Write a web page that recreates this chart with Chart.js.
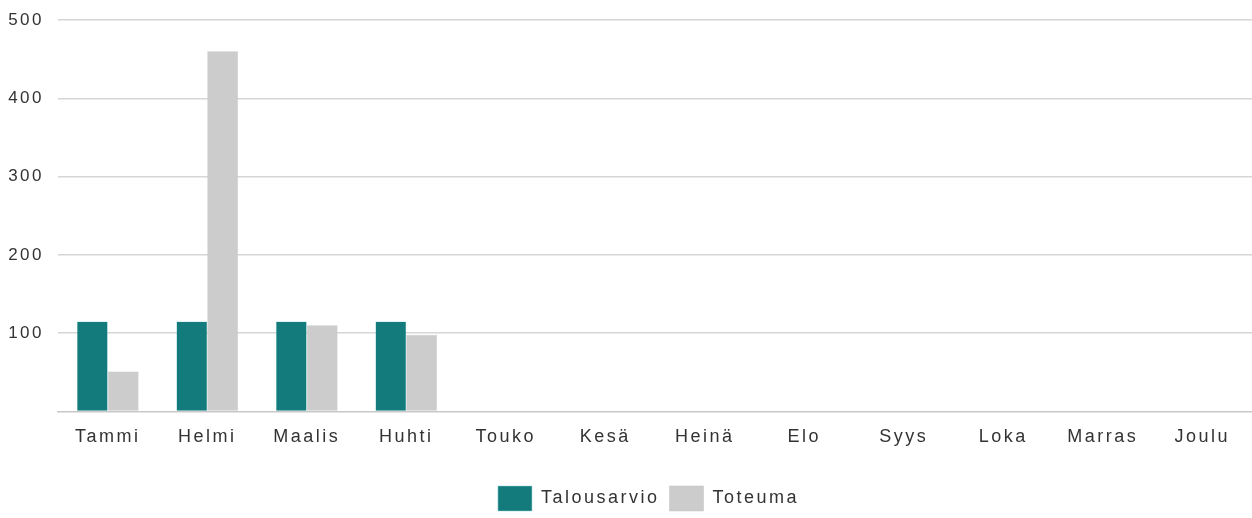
<!DOCTYPE html>
<html>
<head>
<meta charset="utf-8">
<script src="https://cdn.jsdelivr.net/npm/chart.js@4"></script>
<style>
  html, body { margin: 0; padding: 0; background: #fff; }
  #wrap { width: 1252px; height: 518px; }
</style>
</head>
<body>
<div id="wrap"><canvas id="chart"></canvas></div>
<script>
const months = ["Tammi", "Helmi", "Maalis", "Huhti", "Touko", "Kesä", "Heinä", "Elo", "Syys", "Loka", "Marras", "Joulu"];
const budget = [115, 115, 115, 115, null, null, null, null, null, null, null, null];
const actual = [51, 460, 110, 98, null, null, null, null, null, null, null, null];
const yTicks = [100, 200, 300, 400, 500];

// wide letter spacing like the original rendering
const spacing = {
  id: "spacing",
  beforeDraw(chart) { chart.ctx.letterSpacing = "2.5px"; }
};

const font = { family: "Liberation Sans", size: 18 };

new Chart(document.getElementById("chart"), {
  type: "bar",
  data: {
    labels: months,
    datasets: [
      {
        label: "Talousarvio",
        data: budget,
        backgroundColor: "#147b7d",
        borderColor: "#8fd0d0",
        borderWidth: 0.5,
      },
      {
        label: "Toteuma",
        data: actual,
        backgroundColor: "#cccccc",
        borderColor: "#c2c2c2",
        borderWidth: 0.5,
      },
    ],
  },
  options: {
    responsive: true,
    maintainAspectRatio: false,
    animation: false,
    layout: { padding: { left: 0, right: 0, top: 20, bottom: -3 } },
    datasets: { bar: { categoryPercentage: 0.62, barPercentage: 1 } },
    scales: {
      x: {
        grid: { display: false, drawTicks: false },
        border: { color: "#c8c8c8", width: 1.5 },
        ticks: { color: "#333", font: font, padding: 15 },
        afterFit(axis) { axis.height += 13; },
      },
      y: {
        min: 0,
        max: 500,
        afterBuildTicks(axis) { axis.ticks = [0].concat(yTicks).map((v) => ({ value: v })); },
        grid: { color: (c) => (c.tick.value === 0 ? "rgba(0,0,0,0)" : "#d6d6d6"), lineWidth: 1.5, drawTicks: false },
        border: { display: false },
        afterFit(axis) { axis.width = 58; axis.paddingTop = 0; axis.paddingBottom = 0; },
        ticks: {
          color: "#333",
          font: { family: "Liberation Sans", size: 17 },
          padding: 14,
          callback: (v) => (v === 0 ? "" : v),
        },
      },
    },
    plugins: {
      tooltip: { enabled: false },
      legend: {
        position: "bottom",
        labels: {
          color: "#333",
          font: font,
          boxWidth: 34,
          boxHeight: 25,
          padding: 10,
        },
      },
    },
  },
  plugins: [spacing],
});
</script>
</body>
</html>
